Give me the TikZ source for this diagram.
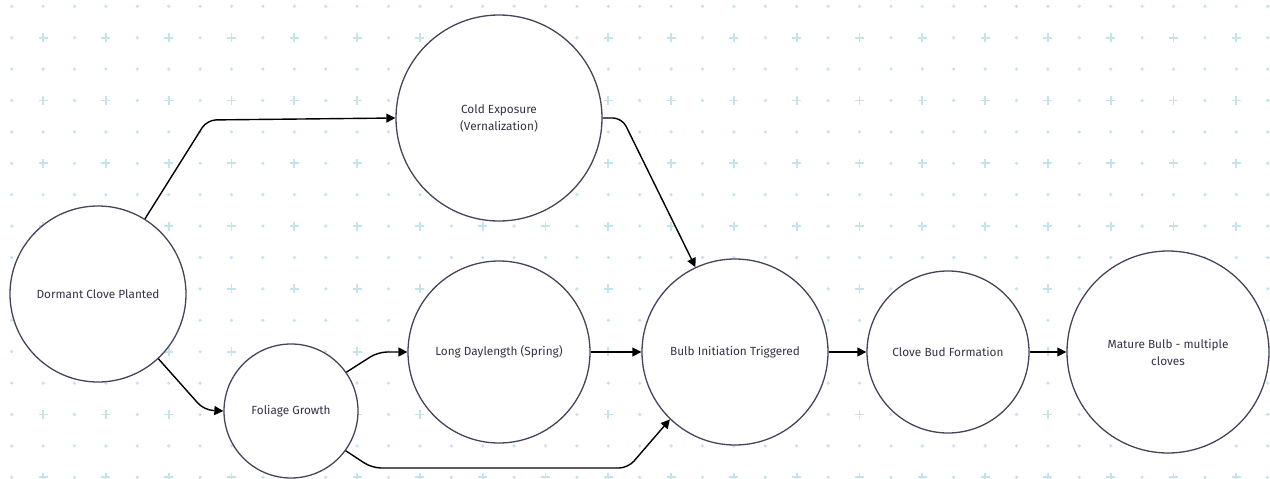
\documentclass[tikz,border=0pt]{standalone}
\usepackage{fontspec}
\setmainfont{Fira Sans}
\usetikzlibrary{arrows.meta}
\definecolor{gridcyan}{RGB}{196,228,236}
\definecolor{ringgray}{RGB}{68,68,90}
\definecolor{labelgray}{RGB}{51,51,72}

\tikzset{
  stage/.style={circle,draw=ringgray,line width=1.3pt,fill=white,inner sep=0pt,
    align=center,text=labelgray,font=\fontsize{11.8}{17}\selectfont},
  flow/.style={-{Triangle[length=9pt,width=9pt]},line width=1.4pt,black,rounded corners=9pt}
}

\begin{document}
\begin{tikzpicture}[x=1pt,y=-1pt]
  \useasboundingbox (0,0) rectangle (1270,479);
  % dotted backdrop
  \foreach \r in {0,...,15}{
    \foreach \c in {0,...,40}{
      \pgfmathsetmacro{\gx}{11.7+31.4*\c}
      \pgfmathsetmacro{\gy}{6.3+31.4*\r}
      \pgfmathtruncatemacro{\odd}{mod(\r,2)*mod(\c,2)}
      \ifnum\odd=1
        \draw[gridcyan,line width=1.8pt] (\gx-4.5,\gy)--(\gx+4.5,\gy) (\gx,\gy-4.5)--(\gx,\gy+4.5);
      \else
        \fill[gridcyan] (\gx,\gy) circle (1.8pt);
      \fi
    }
  }
  % stages
  \node[stage,minimum size=176pt] (dormant) at (98,294) {Dormant Clove Planted};
  \node[stage,minimum size=206pt] (cold) at (499,118) {Cold Exposure\\(Vernalization)};
  \node[stage,minimum size=134pt] (foliage) at (291,411) {Foliage Growth};
  \node[stage,minimum size=182pt] (daylen) at (499,352) {Long Daylength (Spring)};
  \node[stage,minimum size=186pt] (bulbinit) at (735,352) {Bulb Initiation Triggered};
  \node[stage,minimum size=162pt] (clovebud) at (948,352) {Clove Bud Formation};
  \node[stage,minimum size=202pt] (mature) at (1168,352) {Mature Bulb - multiple\\cloves};
  % bends
  \coordinate (k1) at (207,120);
  \coordinate (k2) at (204,410);
  \coordinate (k3) at (378,352);
  \coordinate (k4) at (372,468);
  \coordinate (k5) at (628,468);
  \coordinate (k6) at (622,118);
  % connectors
  \draw[flow] (dormant.58) -- (k1) -- (cold.west);
  \draw[flow] (dormant.-47) -- (k2) -- (foliage.west);
  \draw[flow] (foliage.35) -- (k3) -- (daylen.west);
  \draw[flow] (foliage.-36) -- (k4) -- (k5) -- (bulbinit.226);
  \draw[flow] (cold.east) -- (k6) -- (bulbinit.115);
  \draw[flow] (daylen.east) -- (bulbinit.west);
  \draw[flow] (bulbinit.east) -- (clovebud.west);
  \draw[flow] (clovebud.east) -- (mature.west);
\end{tikzpicture}
\end{document}
